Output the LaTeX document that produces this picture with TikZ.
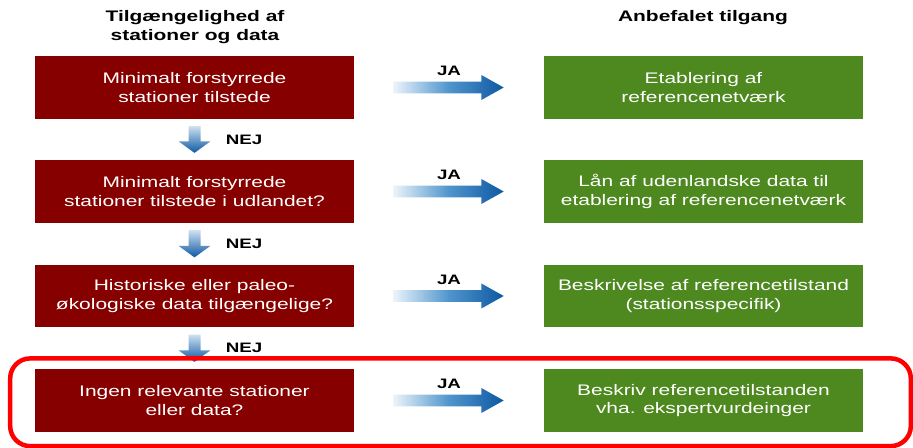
\documentclass[tikz,border=0pt]{standalone}
\usepackage{fontspec}
\setmainfont{Liberation Sans}[FakeStretch=1.37]
\usetikzlibrary{calc}

\definecolor{qred}{RGB}{134,0,0}
\definecolor{agreen}{RGB}{78,137,32}
\definecolor{flowblue}{RGB}{14,88,162}
\definecolor{flowmid}{RGB}{80,150,205}
\definecolor{flowlight}{RGB}{236,244,251}

\begin{document}
\begin{tikzpicture}[
  x=0.02cm, y=-0.02cm,
  colhead/.style={font=\fontsize{8.7pt}{10.5pt}\selectfont\bfseries, align=center,
                  inner sep=0pt},
  question/.style={rectangle, fill=qred, text=white, minimum width=6.38cm,
                   minimum height=1.25cm, inner sep=0pt, align=center,
                   font=\fontsize{8.7pt}{10.6pt}\selectfont},
  answer/.style={question, fill=agreen},
  ja/.style={font=\fontsize{7.8pt}{9pt}\selectfont\bfseries, inner sep=0pt, anchor=base},
  nej/.style={ja, anchor=west},
  jarrow/.style={left color=flowlight, right color=flowblue, middle color=flowmid,
    to path={($(\tikztostart)+(0,-5.8)$) -- ($(\tikztotarget)+(-22.3,-5.8)$)
      -- ($(\tikztotarget)+(-22.3,-12.5)$) -- (\tikztotarget)
      -- ($(\tikztotarget)+(-22.3,12.5)$) -- ($(\tikztotarget)+(-22.3,5.8)$)
      -- ($(\tikztostart)+(0,5.8)$) -- cycle}},
  narrow/.style={top color=flowlight!80!flowmid, bottom color=flowblue,
    to path={($(\tikztostart)+(-6,0)$) -- ($(\tikztotarget)+(-6,-11.6)$)
      -- ($(\tikztotarget)+(-16,-11.6)$) -- (\tikztotarget)
      -- ($(\tikztotarget)+(16,-11.6)$) -- ($(\tikztotarget)+(6,-11.6)$)
      -- ($(\tikztostart)+(6,0)$) -- cycle}},
  focusframe/.style={draw=red, line width=0.09cm, rounded corners=0.4cm},
]
\useasboundingbox (0,0) rectangle (913,448);

% -------------------------------------------------------------- headings --
\node[colhead] (headL) at (195,27) {Tilgængelighed af\\stationer og data};
\node[colhead, anchor=base] (headR) at (703,21.7) {Anbefalet tilgang};

% ------------------------------------------------------------- questions --
\node[question] (q1) at (194.5,87.5)  {Minimalt forstyrrede\\stationer tilstede};
\node[question] (q2) at (194.5,191.5) {Minimalt forstyrrede\\stationer tilstede i udlandet?};
\node[question] (q3) at (194.5,296)   {Historiske eller paleo-\\økologiske data tilgængelige?};
\node[question] (q4) at (194.5,400.5) {Ingen relevante stationer\\eller data?};

% --------------------------------------------------------------- answers --
\node[answer] (a1) at (703.5,87.5)  {Etablering af\\referencenetværk};
\node[answer] (a2) at (703.5,191.5) {Lån af udenlandske data til\\etablering af referencenetværk};
\node[answer] (a3) at (703.5,296)   {Beskrivelse af referencetilstand\\(stationsspecifik)};
\node[answer] (a4) at (703.5,400.5) {Beskriv referencetilstanden\\vha. ekspertvurdeinger};

% ---------------------------------------------------------- JA arrows --
\foreach \i in {1,...,4}{
  \path[jarrow] ([xshift=0.78cm]q\i.east) to ([xshift=-0.8cm]a\i.west);
  \node[ja] (ja\i) at ($(q\i.east)!0.5!(a\i.west)+(0,-11.5)$) {JA};
}

% --------------------------------------------------------- NEJ arrows --
\foreach \i/\j in {1/2,2/3,3/4}{
  \path[narrow] ([yshift=-0.14cm]q\i.south) to ([yshift=0.14cm]q\j.north);
  \node[nej] (nej\i) at ($(q\i.south)!0.5!(q\j.north)+(31,0)$) {NEJ};
}

% ---------------------------------------------------------------- frame --
\draw[focusframe] ($(q4.north west)+(-24.5,-10.5)$) rectangle ($(a4.south east)+(47.5,14)$);

\end{tikzpicture}
\end{document}
